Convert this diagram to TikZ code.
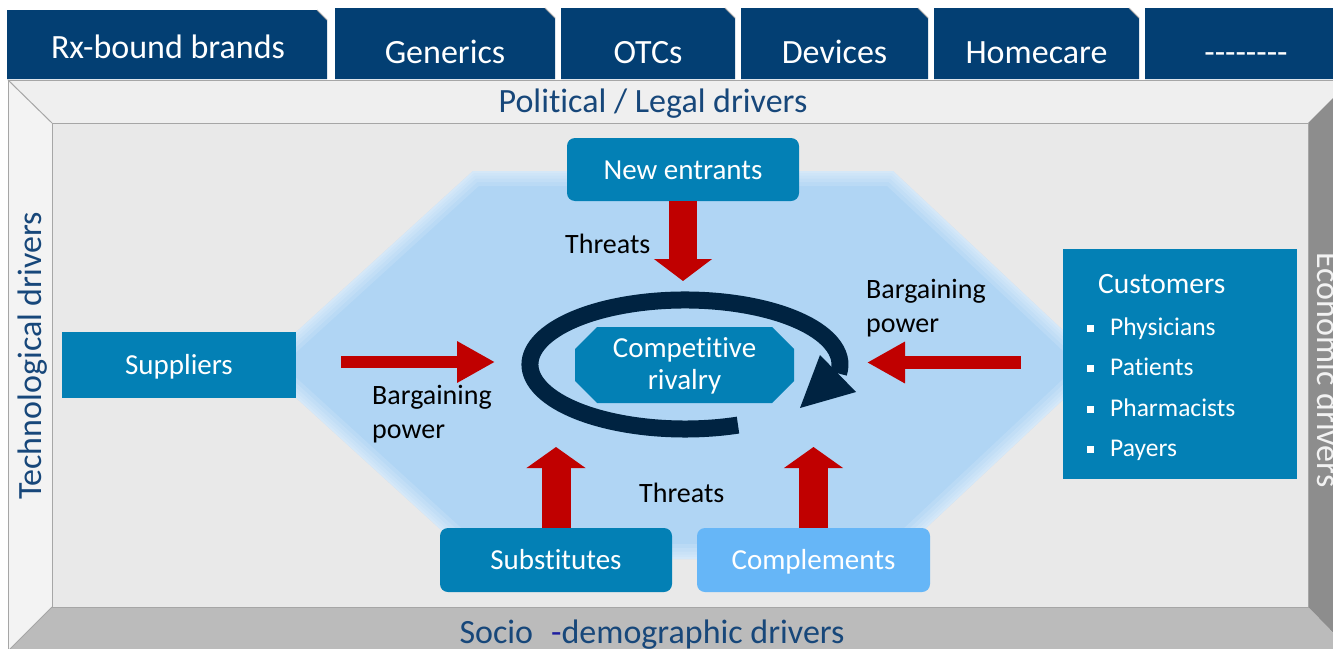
\documentclass[tikz,border=0pt]{standalone}
\usepackage{fontspec}
\setmainfont[Ligatures={NoCommon}]{Carlito}
\usetikzlibrary{arrows.meta}
\definecolor{tabblue}{HTML}{033F73}
\definecolor{boxblue}{HTML}{0380B5}
\definecolor{lightbox}{HTML}{66B6F7}
\definecolor{hexblue}{HTML}{B0D5F4}
\definecolor{ringnavy}{HTML}{002341}
\definecolor{redarrow}{HTML}{C00000}
\definecolor{drvtext}{HTML}{17477A}
\definecolor{hyph}{HTML}{1F1FA0}
\definecolor{innerface}{HTML}{E9E9E9}
\definecolor{topbevel}{HTML}{EFEFEF}
\definecolor{leftbevel}{HTML}{F3F3F3}
\definecolor{rightbevel}{HTML}{8D8D8D}
\definecolor{botbevel}{HTML}{BBBBBB}
\definecolor{edgegray}{HTML}{A6A6A6}
\definecolor{econtext}{HTML}{F2F2F2}
\begin{document}
\begin{tikzpicture}[x=1pt,y=-1pt,
  tabtext/.style={text=white,font=\fontsize{34}{40}\selectfont,anchor=base,inner sep=0pt},
  drivertext/.style={text=drvtext,font=\fontsize{34}{40}\selectfont,anchor=base,inner sep=0pt},
  boxtext/.style={text=white,font=\fontsize{29}{34}\selectfont,inner sep=0pt,text height=19pt,text depth=0pt},
  itemtext/.style={text=white,font=\fontsize{25.5}{30}\selectfont,anchor=base west,inner sep=0pt},
  labeltext/.style={text=black,font=\fontsize{28}{33}\selectfont,anchor=base west,inner sep=0pt},
  bluebox/.style={boxtext,fill=boxblue,draw=none},
  roundbox/.style={bluebox,rounded corners=8pt},
  redshaft/.style={draw=redarrow,line width=#1},
  ringline/.style={draw=ringnavy,line width=17pt},
  bevelline/.style={draw=edgegray,line width=1pt},
  hexrim/.style={white,opacity=0.13,line width=#1,line join=round}
]
\useasboundingbox (0,0) rectangle (1333,648);
\fill[white] (0,0) rectangle (1333,648);

% ---- tabs
\foreach \xa/\xb/\ya in {7/327/10, 335/555/8, 561/735/8, 741/928/8, 934/1139/8, 1145/1345/8}{
  \fill[tabblue] (\xa,79) -- (\xa,\ya) -- (\xb-10,\ya) -- (\xb,\ya+10) -- (\xb,79) -- cycle;
  \draw[edgegray,line width=0.8pt] (\xb-10,\ya) -- (\xb,\ya+10);
}
\node[tabtext] (t1) at (168,58) {Rx-bound brands};
\node[tabtext] (t2) at (445,63) {Generics};
\node[tabtext] (t3) at (648,63) {OTCs};
\node[tabtext] (t4) at (834.5,63) {Devices};
\node[tabtext] (t5) at (1036.5,63) {Homecare};
\node[tabtext] (t6) at (1246,63) {-{}-{}-{}-{}-{}-{}-{}-};

% ---- beveled frame
\fill[topbevel] (8,80) -- (1351,80) -- (1308,123) -- (52,123) -- cycle;
\fill[leftbevel] (8,80) -- (52,123) -- (52,607) -- (8,651) -- cycle;
\fill[rightbevel] (1351,80) -- (1308,123) -- (1308,607) -- (1351,651) -- cycle;
\fill[botbevel] (8,651) -- (52,607) -- (1308,607) -- (1351,651) -- cycle;
\fill[innerface] (52,123) rectangle (1308,607);
\draw[bevelline] (52,123) rectangle (1308,607);
\draw[bevelline] (8,651) -- (8,80) -- (1351,80);
\draw[bevelline] (8,80) -- (52,123);
\draw[bevelline] (8,651) -- (52,607);

\node[drivertext] (pol) at (653,112) {Political / Legal drivers};
\node[drivertext] (soc) at (652,643) {Socio\hspace{18pt}{\color{hyph}-}demographic drivers};
\node[drivertext,rotate=90] (tech) at (41,356) {Technological drivers};
\node[drivertext,text=econtext,rotate=-90] (eco) at (1317,370) {Economic drivers};

% ---- hexagon
\fill[hexblue] (260,365) -- (473,171) -- (893,171) -- (1100,365) -- (893,559) -- (473,559) -- cycle;
\begin{scope}
  \clip (260,365) -- (473,171) -- (893,171) -- (1100,365) -- (893,559) -- (473,559) -- cycle;
  \foreach \w in {30,22,15,9,4}{
    \draw[hexrim=\w pt] (260,365) -- (473,171) -- (893,171) -- (1100,365) -- (893,559) -- (473,559) -- cycle;
  }
\end{scope}

% ---- boxes
\node[roundbox,minimum width=232pt,minimum height=63pt] (ne) at (683,169.5) {New entrants};
\node[bluebox,minimum width=234pt,minimum height=66pt] (supp) at (179,365) {Suppliers};
\node[roundbox,minimum width=232pt,minimum height=64pt] (sub) at (556,560) {Substitutes};
\node[roundbox,fill=lightbox,minimum width=233pt,minimum height=64pt] (comp) at (813.5,560) {Complements};
\node[bluebox,minimum width=234pt,minimum height=230pt] (cust) at (1180,364) {};

\node[itemtext,font=\fontsize{29.5}{34}\selectfont] (custt) at (1098,293) {Customers};
\node[itemtext] (i1) at (1087,335) {\raisebox{3pt}{\rule{7pt}{7pt}}\hspace{16pt}Physicians};
\node[itemtext] (i2) at (1087,375) {\raisebox{3pt}{\rule{7pt}{7pt}}\hspace{16pt}Patients};
\node[itemtext] (i3) at (1087,416) {\raisebox{3pt}{\rule{7pt}{7pt}}\hspace{16pt}Pharmacists};
\node[itemtext] (i4) at (1087,456) {\raisebox{3pt}{\rule{7pt}{7pt}}\hspace{16pt}Payers};

% ---- red arrows
\coordinate (netip) at (683,281);
\coordinate (subtip) at (556,447);
\coordinate (comptip) at (813.5,447);
\coordinate (supptip) at (495,362);
\coordinate (custtip) at (867,362.5);
\draw[redshaft=28pt,-{Triangle[width=57pt,length=22pt]}] (ne.south) -- (netip);
\draw[redshaft=29pt,-{Triangle[width=58pt,length=21pt]}] (sub.north) -- (subtip);
\draw[redshaft=29pt,-{Triangle[width=58pt,length=21pt]}] (comp.north) -- (comptip);
\draw[redshaft=12.5pt,-{Triangle[width=39pt,length=38pt]},shorten <=45pt] (supp.east |- supptip) -- (supptip);
\draw[redshaft=13pt,-{Triangle[width=39pt,length=38pt]},shorten <=42pt] (cust.west |- custtip) -- (custtip);

% ---- rivalry ring
\coordinate (ringstart) at (738,425.1);
\draw[ringline] (ringstart) arc[start angle=70,end angle=368,x radius=155,y radius=64.5];
\fill[ringnavy] (820,355) -- (856,392) -- (800,408) -- cycle;

% ---- competitive rivalry octagon
\fill[boxblue] (597,327) -- (772,327) -- (794,349) -- (794,381) -- (772,403) -- (597,403) -- (575,381) -- (575,349) -- cycle;
\node[boxtext,anchor=base] (cr1) at (684.5,357) {Competitive};
\node[boxtext,anchor=base] (cr2) at (684.5,389) {rivalry};

% ---- labels
\node[labeltext] (th1) at (565,253) {Threats};
\node[labeltext] (th2) at (639,502) {Threats};
\node[labeltext] (bp1) at (372,404) {Bargaining};
\node[labeltext] (bp2) at (372,438) {power};
\node[labeltext] (bp3) at (866,298) {Bargaining};
\node[labeltext] (bp4) at (866,332) {power};
\end{tikzpicture}
\end{document}
